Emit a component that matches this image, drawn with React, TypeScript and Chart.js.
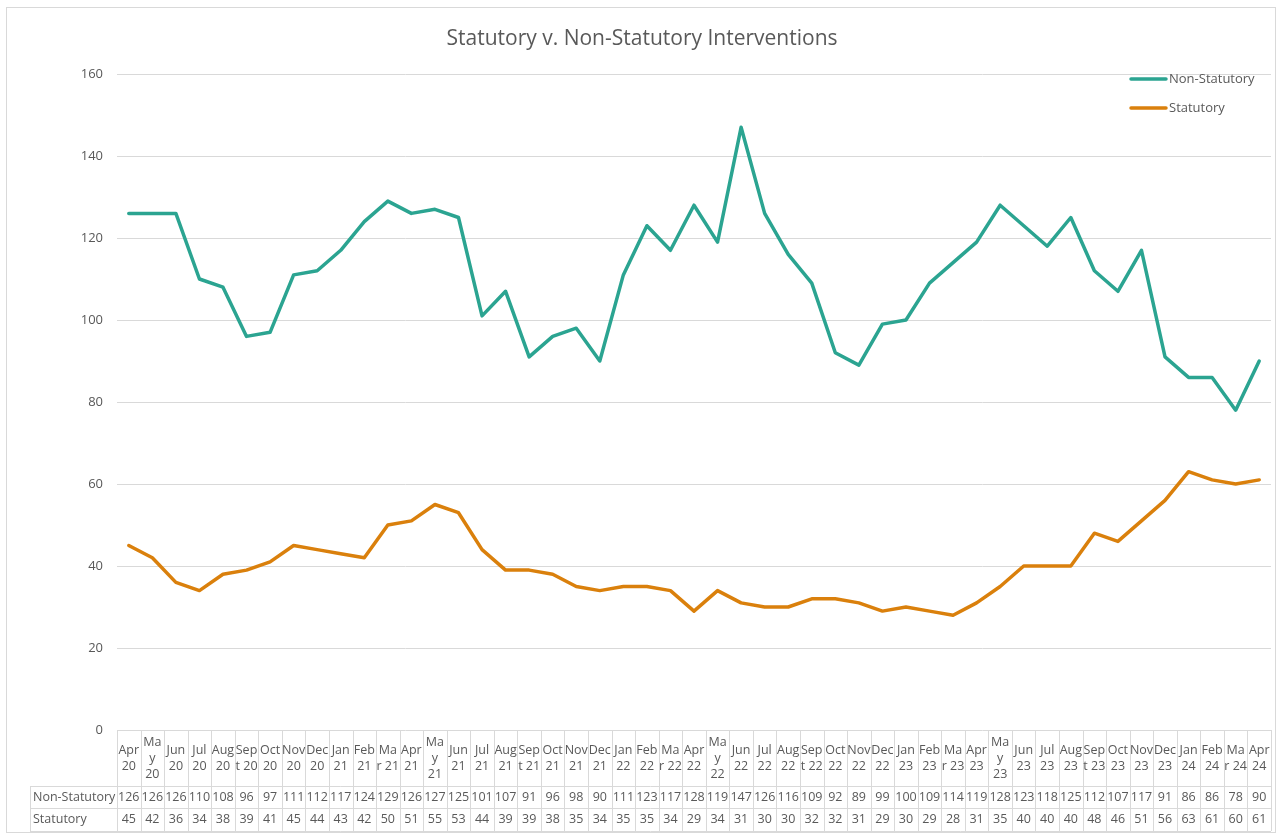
import React, { useEffect, useRef } from "react";
import { Chart, registerables } from "chart.js";

Chart.register(...registerables);

const chartTitle = "Statutory v. Non-Statutory Interventions";

const categories: string[][] = [
  ["Apr", "20"], ["Ma", "y", "20"], ["Jun", "20"], ["Jul", "20"], ["Aug", "20"], ["Sep", "t 20"], ["Oct", "20"], ["Nov", "20"], ["Dec", "20"],
  ["Jan", "21"], ["Feb", "21"], ["Ma", "r 21"], ["Apr", "21"], ["Ma", "y", "21"], ["Jun", "21"], ["Jul", "21"], ["Aug", "21"], ["Sep", "t 21"],
  ["Oct", "21"], ["Nov", "21"], ["Dec", "21"], ["Jan", "22"], ["Feb", "22"], ["Ma", "r 22"], ["Apr", "22"], ["Ma", "y", "22"], ["Jun", "22"],
  ["Jul", "22"], ["Aug", "22"], ["Sep", "t 22"], ["Oct", "22"], ["Nov", "22"], ["Dec", "22"], ["Jan", "23"], ["Feb", "23"], ["Ma", "r 23"],
  ["Apr", "23"], ["Ma", "y", "23"], ["Jun", "23"], ["Jul", "23"], ["Aug", "23"], ["Sep", "t 23"], ["Oct", "23"], ["Nov", "23"], ["Dec", "23"],
  ["Jan", "24"], ["Feb", "24"], ["Ma", "r 24"], ["Apr", "24"],
];

const nonStatutory: number[] = [
  126, 126, 126, 110, 108, 96, 97, 111, 112, 117, 124, 129, 126,
  127, 125, 101, 107, 91, 96, 98, 90, 111, 123, 117, 128, 119, 147, 126, 116, 109, 92,
  89, 99, 100, 109, 114, 119, 128, 123, 118, 125, 112, 107, 117, 91, 86, 86, 78, 90,
];

const statutory: number[] = [
  45, 42, 36, 34, 38, 39, 41, 45, 44, 43, 42, 50, 51,
  55, 53, 44, 39, 39, 38, 35, 34, 35, 35, 34, 29, 34, 31, 30, 30, 32, 32,
  31, 29, 30, 29, 28, 31, 35, 40, 40, 40, 48, 46, 51, 56, 63, 61, 60, 61,
];

const seriesNames = ["Non-Statutory", "Statutory"];
const seriesColors = ["#2BA491", "#DA800C"];

const yMin = 0;
const yMax = 160;
const yStep = 20;

const FONT = "'Open Sans', 'Liberation Sans', sans-serif";
const TEXT = "#595959";
const GRID = "#d9d9d9";

const W = 1268;
const H = 824;

const extrasPlugin = {
  id: "extras",
  afterDraw(chart: any) {
    const { ctx, chartArea } = chart;
    const n = categories.length;
    const left = chartArea.left;
    const right = chartArea.right;
    const colW = (right - left) / n;
    const top = chartArea.bottom;
    const hdrBottom = top + 56;
    const row1 = hdrBottom + 22;
    const row2 = row1 + 23;
    const labelLeft = 23;
    ctx.save();

    // title
    ctx.fillStyle = TEXT;
    ctx.font = `21px ${FONT}`;
    ctx.textAlign = "center";
    ctx.textBaseline = "middle";
    ctx.fillText(chartTitle, W / 2 + 1, 31);

    // legend
    const legendYs = [71, 100];
    seriesNames.forEach((name, i) => {
      ctx.strokeStyle = seriesColors[i];
      ctx.lineWidth = 3.5;
      ctx.lineCap = "round";
      ctx.beginPath();
      ctx.moveTo(1124, legendYs[i]);
      ctx.lineTo(1159, legendYs[i]);
      ctx.stroke();
      ctx.fillStyle = TEXT;
      ctx.font = `13px ${FONT}`;
      ctx.textAlign = "left";
      ctx.textBaseline = "middle";
      ctx.fillText(name, 1162, legendYs[i]);
    });

    // table grid
    ctx.strokeStyle = GRID;
    ctx.lineWidth = 1;
    ctx.lineCap = "butt";
    ctx.beginPath();
    for (let i = 0; i <= n; i++) {
      const x = Math.round(left + i * colW) + 0.5;
      ctx.moveTo(x, top);
      ctx.lineTo(x, row2);
    }
    [hdrBottom, row1, row2].forEach((y) => {
      ctx.moveTo(labelLeft, Math.round(y) + 0.5);
      ctx.lineTo(right, Math.round(y) + 0.5);
    });
    ctx.moveTo(labelLeft + 0.5, hdrBottom);
    ctx.lineTo(labelLeft + 0.5, row2);
    ctx.stroke();

    // header text
    ctx.fillStyle = TEXT;
    ctx.font = `12.5px ${FONT}`;
    ctx.textAlign = "center";
    ctx.textBaseline = "middle";
    const hdrMid = (top + hdrBottom) / 2;
    const lh = 16;
    categories.forEach((lines, i) => {
      const cx = left + (i + 0.5) * colW;
      const start = hdrMid - ((lines.length - 1) * lh) / 2;
      lines.forEach((t, k) => ctx.fillText(t, cx, start + k * lh));
    });

    // rows
    const rows = [nonStatutory, statutory];
    const rowMids = [(hdrBottom + row1) / 2, (row1 + row2) / 2];
    rows.forEach((vals, r) => {
      ctx.textAlign = "left";
      ctx.fillText(seriesNames[r], labelLeft + 3, rowMids[r]);
      ctx.textAlign = "center";
      vals.forEach((v, i) => {
        ctx.fillText(String(v), left + (i + 0.5) * colW, rowMids[r]);
      });
    });
    ctx.restore();
  },
};

export default function App() {
  const ref = useRef<HTMLCanvasElement | null>(null);
  useEffect(() => {
    if (!ref.current) return;
    const chart = new Chart(ref.current, {
      type: "line",
      data: {
        labels: categories,
        datasets: [
          {
            label: seriesNames[0],
            data: nonStatutory,
            borderColor: seriesColors[0],
            backgroundColor: seriesColors[0],
            borderWidth: 3.5,
            pointRadius: 0,
            tension: 0,
            borderJoinStyle: "round",
            borderCapStyle: "round",
          },
          {
            label: seriesNames[1],
            data: statutory,
            borderColor: seriesColors[1],
            backgroundColor: seriesColors[1],
            borderWidth: 3.5,
            pointRadius: 0,
            tension: 0,
            borderJoinStyle: "round",
            borderCapStyle: "round",
          },
        ],
      },
      options: {
        responsive: false,
        animation: false,
        layout: { padding: { top: 66, right: 4, bottom: 102, left: 0 } },
        plugins: {
          legend: { display: false },
          title: { display: false },
          tooltip: { enabled: false },
        },
        scales: {
          x: {
            type: "category",
            display: false,
            offset: true,
          },
          y: {
            min: yMin,
            max: yMax,
            afterFit: (axis: any) => {
              axis.width = 110;
            },
            ticks: {
              stepSize: yStep,
              color: TEXT,
              font: { family: FONT, size: 13 },
              padding: 14,
            },
            grid: { color: GRID, drawTicks: false, lineWidth: 1 },
            border: { display: false },
          },
        },
      },
      plugins: [extrasPlugin],
    });
    return () => chart.destroy();
  }, []);

  return (
    <div
      style={{
        position: "absolute",
        left: 6,
        top: 7,
        width: W,
        height: H,
        border: `1px solid ${GRID}`,
        background: "#fff",
      }}
    >
      <canvas ref={ref} width={W} height={H} style={{ display: "block" }} />
    </div>
  );
}
